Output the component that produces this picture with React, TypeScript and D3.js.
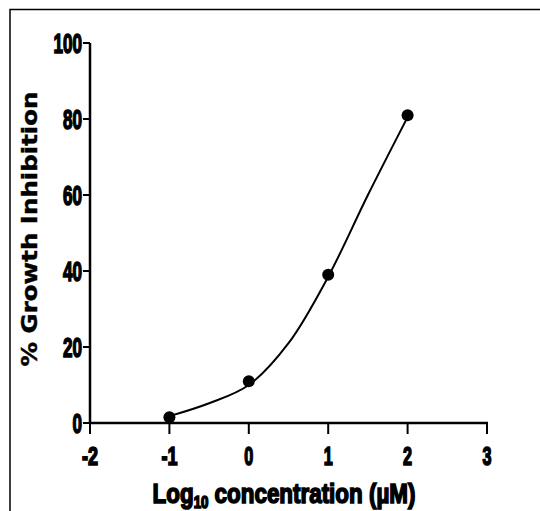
import React from "react";
import * as d3 from "d3";

const logConc = [-1, 0, 1, 2];
const inhibition = [1.5, 11, 39, 81];
const fitX = [-1, -0.5, 0, 0.5, 1, 1.5, 2];
const fitY = [1.8, 5.2, 10, 21, 38.5, 60, 80.5];
const xTicks = [-2, -1, 0, 1, 2, 3];
const yTicks = [0, 20, 40, 60, 80, 100];

const W = 540, H = 511;
const F = "'Liberation Sans', Arial, sans-serif";

function labelWidth(s: string, digitW: number, minusW: number) {
  let w = 0;
  for (const ch of s) w += ch === "-" ? minusW : digitW;
  return w;
}

export default function App() {
  const x = d3.scaleLinear().domain([-2, 3]).range([90, 487]);
  const y = d3.scaleLinear().domain([0, 100]).range([423, 43]);
  const line = d3
    .line<number>()
    .x((_, i) => x(fitX[i]))
    .y((d) => y(d))
    .curve(d3.curveCatmullRom.alpha(0.5));
  return (
    <svg width={W} height={H} style={{ position: "absolute", left: 0, top: 0, background: "#fff" }}>
      <rect x={10} y={9.5} width={560} height={540} fill="none" stroke="#000" strokeWidth={1.5} />
      {/* y axis */}
      <line x1={x(-2)} x2={x(-2)} y1={y(100)} y2={y(0)} stroke="#000" strokeWidth={2.5} />
      {yTicks.map((t) => {
        const s = String(t);
        return (
          <g key={"y" + t}>
            <line x1={x(-2) - 7} x2={x(-2)} y1={y(t)} y2={y(t)} stroke="#000" strokeWidth={2} />
            <text
              x={x(-2) - 8}
              y={y(t) + 10}
              textAnchor="end"
              fontFamily={F}
              fontWeight="bold"
              fontSize={27}
              stroke="#000"
              strokeWidth={1.6}
              textLength={labelWidth(s, 9.5, 6)}
              lengthAdjust="spacingAndGlyphs"
            >
              {s}
            </text>
          </g>
        );
      })}
      {/* x axis */}
      <line x1={x(-2)} x2={x(3) + 1} y1={y(0)} y2={y(0)} stroke="#000" strokeWidth={2.5} />
      {xTicks.map((t) => {
        const s = String(t);
        return (
          <g key={"x" + t}>
            <line x1={x(t)} x2={x(t)} y1={y(0)} y2={y(0) + 11} stroke="#000" strokeWidth={2} />
            <text
              x={x(t)}
              y={y(0) + 42}
              textAnchor="middle"
              fontFamily={F}
              fontWeight="bold"
              fontSize={25}
              stroke="#000"
              strokeWidth={1.6}
              textLength={labelWidth(s, 9, 7)}
              lengthAdjust="spacingAndGlyphs"
            >
              {s}
            </text>
          </g>
        );
      })}
      {/* fit curve */}
      <path d={line(fitY) || ""} fill="none" stroke="#000" strokeWidth={2} />
      {logConc.map((c, i) => (
        <circle key={"p" + i} cx={x(c)} cy={y(inhibition[i])} r={6} fill="#000" />
      ))}
      {/* y label */}
      <text
        transform={`translate(37,229) rotate(-90)`}
        textAnchor="middle"
        fontFamily="'DejaVu Sans', sans-serif"
        fontWeight="bold"
        fontSize={22}
        stroke="#000"
        strokeWidth={0.4}
        textLength={275}
        lengthAdjust="spacingAndGlyphs"
      >
        % Growth Inhibition
      </text>
      {/* x label */}
      <text
        transform="translate(284,503) scale(0.83,1)"
        textAnchor="middle"
        fontFamily={F}
        fontWeight="bold"
        fontSize={27}
        stroke="#000"
        strokeWidth={1.6}
      >
        Log
        <tspan fontSize={16} dy={5}>10</tspan>
        <tspan dy={-5}> concentration (µM)</tspan>
      </text>
    </svg>
  );
}
